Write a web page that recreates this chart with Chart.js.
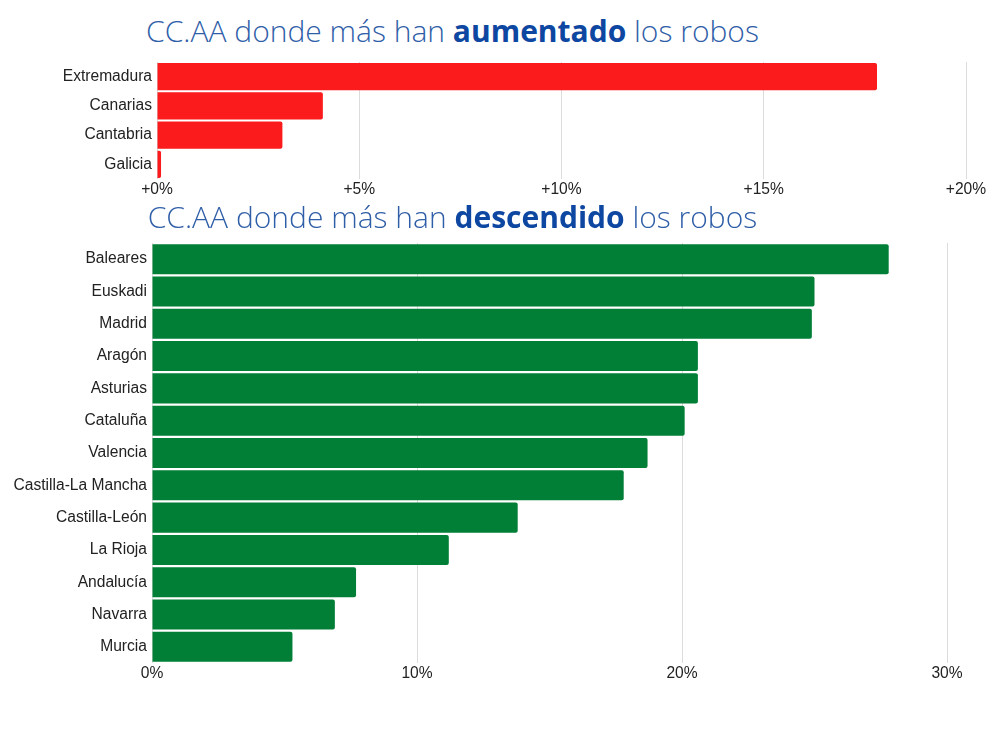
<!DOCTYPE html>
<html><head><meta charset="utf-8">
<script src="https://cdn.jsdelivr.net/npm/chart.js@4"></script>
<style>
html,body{margin:0;padding:0;background:#fff;width:990px;height:742px;overflow:hidden;}
.title{position:absolute;left:0;width:905px;text-align:center;font-family:"Open Sans",sans-serif;font-size:30px;font-weight:300;color:#2f5ea8;white-space:nowrap;line-height:1;}
.title b{font-weight:700;color:#0d47a1;}
.wrap{position:absolute;left:0;width:990px;}
</style></head>
<body>
<div class="title" id="t1" style="top:16px;">CC.AA donde más han <b>aumentado</b> los robos</div>
<div class="wrap" style="top:50px;height:155px;"><canvas id="c1"></canvas></div>
<div class="title" id="t2" style="top:202px;">CC.AA donde más han <b>descendido</b> los robos</div>
<div class="wrap" style="top:235px;height:454px;"><canvas id="c2"></canvas></div>
<script>
const upCategories = ["Extremadura","Canarias","Cantabria","Galicia"];
const upValues = [17.8, 4.1, 3.1, 0.1];
const upTicks = [0, 5, 10, 15, 20];

const downCategories = ["Baleares","Euskadi","Madrid","Aragón","Asturias","Cataluña","Valencia","Castilla-La Mancha","Castilla-León","La Rioja","Andalucía","Navarra","Murcia"];
const downValues = [27.8, 25.0, 24.9, 20.6, 20.6, 20.1, 18.7, 17.8, 13.8, 11.2, 7.7, 6.9, 5.3];
const downTicks = [0, 10, 20, 30];

const tickFont = {family:"'Liberation Sans', Arial, sans-serif", size:15.6};
const tickColor = '#222';

function makeChart(id, cats, vals, ticks, color, prefix, yWidth, pad, xPad) {
  return new Chart(document.getElementById(id), {
    type:'bar',
    data:{labels:cats, datasets:[{data:vals, backgroundColor:color, borderWidth:0, borderRadius:2, borderSkipped:'start', barPercentage:0.93, categoryPercentage:1}]},
    options:{
      indexAxis:'y', responsive:true, maintainAspectRatio:false, animation:false,
      layout:{padding:pad},
      plugins:{legend:{display:false}, tooltip:{enabled:false}},
      scales:{
        x:{min:ticks[0], max:ticks[ticks.length-1],
           afterBuildTicks:(s)=>{s.ticks = ticks.map(v=>({value:v}));},
           afterFit:(s)=>{s.height=26;},
           grid:{color:'#dcdcdc', lineWidth:1, drawTicks:false},
           border:{display:false},
           ticks:{font:tickFont, color:tickColor, padding:xPad, maxRotation:0, callback:(v)=>prefix+v+'%'}},
        y:{afterFit:(s)=>{s.width=yWidth;},
           grid:{display:false}, border:{display:false},
           ticks:{font:tickFont, color:tickColor, padding:-3}}
      }
    }
  });
}
makeChart('c1', upCategories, upValues, upTicks, '#fb1a1c', '+', 157, {top:12, right:24, left:0, bottom:0}, 1);
makeChart('c2', downCategories, downValues, downTicks, '#027f37', '', 152, {top:8, right:43, left:0, bottom:0}, 1);
</script>
</body></html>
